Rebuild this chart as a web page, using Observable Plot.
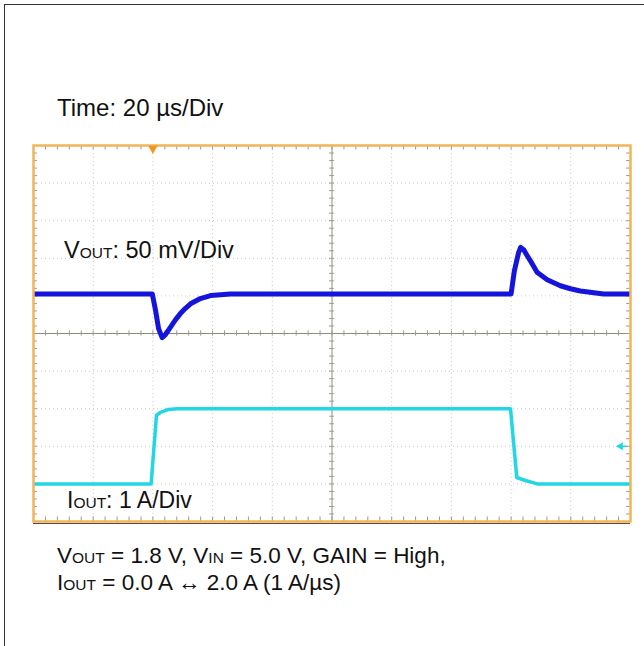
<!DOCTYPE html>
<html>
<head>
<meta charset="utf-8">
<script src="https://cdn.jsdelivr.net/npm/d3@7"></script>
<script src="https://cdn.jsdelivr.net/npm/@observablehq/plot@0.6"></script>
<style>
  html, body { margin: 0; padding: 0; background: #fff; }
  #wrap { position: relative; width: 644px; height: 646px; overflow: hidden; }
  #border { position: absolute; left: 4px; top: 4px; width: 700px; height: 700px;
            border-left: 1.5px solid #333; border-top: 1.5px solid #333; pointer-events: none; }
  svg { font-family: "Liberation Sans", Arial, sans-serif; }
</style>
</head>
<body>
<div id="wrap"><div id="chart"></div><div id="border"></div></div>
<script>
// ---- Data read from the oscilloscope capture ----
// time axis: 20 µs/div, 10 divisions
const timeDomain = [0, 200];            // µs
const divisions = [-5, 5];              // vertical divisions
const voltsPerDiv = 50;                 // mV/div
const ampsPerDiv = 1;                   // A/div
const vOutOffsetDiv = 1.05;             // VOUT trace position (div)
const iOutOffsetDiv = -4;               // IOUT zero position (div)

// VOUT AC deviation (mV) vs time (µs)
const vTime = [0, 39.8, 40.9, 41.9, 43.1, 44.2, 45.9, 47.6, 49.2, 50.9, 52.6, 55.9, 59.3, 66.0,
               160.0, 161.1, 162.5, 163.2, 164.2, 165.4, 166.8, 168.7, 172.1, 176.5, 179.9, 183.2, 191.0, 200];
const vOut  = [0, 0, -22, -46, -58, -54, -44, -34, -26, -19, -13, -6, -2, 0,
               0, 31, 55, 62, 59, 51, 42, 29, 19, 11, 7, 4, 0, 0];

// IOUT (A) vs time (µs)
const iTime = [0, 39.4, 41.2, 42.5, 45.2, 48.2, 159.8, 161.9, 164.8, 168.8, 200];
const iOut  = [0, 0, 1.83, 1.90, 1.98, 2.0, 2.0, 0.17, 0.09, 0, 0];

// scope markers
const triggerTime = [40];      // µs
const triggerLevelA = [1.0];   // A

// texts
const timeLabel = "Time: 20 µs/Div";
const vLabel = [["V", false], ["OUT", true], [": 50 mV/Div", false]];
const iLabel = [["I", false], ["OUT", true], [": 1 A/Div", false]];
const caption1 = [["V", false], ["OUT", true], [" = 1.8 V, V", false], ["IN", true], [" = 5.0 V, GAIN = High,", false]];
const caption2 = [["I", false], ["OUT", true], [" = 0.0 A \u2194 2.0 A (1 A/µs)", false]];

// ---- build tables ----
const vData = vTime.map((t, i) => ({t, mv: vOut[i]}));
const iData = iTime.map((t, i) => ({t, a: iOut[i]}));

const majorX = d3.range(20, 200, 20).filter(d => d !== 100);
const majorY = d3.range(-4, 5, 1).filter(d => d !== 0);
const minorX = d3.range(0, 200.001, 4);
const minorY = d3.range(-5, 5.001, 0.2).map(d => +d.toFixed(2));

const gridColor = "#c9c9c9";
const axisColor = "#8d8d7e";
const tickColor = "#9a9a8c";
const frameColor = "#f2b458";

const chart = Plot.plot({
  width: 644,
  height: 646,
  marginLeft: 33,
  marginRight: 14,
  marginTop: 145,
  marginBottom: 125,
  x: {domain: timeDomain, axis: null},
  y: {domain: divisions, axis: null},
  marks: [
    // dotted grid
    Plot.ruleX(majorX, {stroke: gridColor, strokeDasharray: "1,3", strokeWidth: 1}),
    Plot.ruleY(majorY, {stroke: gridColor, strokeDasharray: "1,3", strokeWidth: 1}),
    // center axes
    Plot.ruleX([100], {stroke: axisColor, strokeWidth: 1}),
    Plot.ruleY([0], {stroke: axisColor, strokeWidth: 1}),
    // center axis minor ticks
    Plot.ruleX(minorX, {y1: -0.07, y2: 0.07, stroke: tickColor}),
    Plot.ruleY(minorY, {x1: 99.2, x2: 100.8, stroke: tickColor}),
    // frame edge ticks
    Plot.ruleX(minorX, {y1: 5, y2: 4.88, stroke: tickColor}),
    Plot.ruleX(minorX, {y1: -5, y2: -4.88, stroke: tickColor}),
    Plot.ruleY(minorY, {x1: 0, x2: 1.3, stroke: tickColor}),
    Plot.ruleY(minorY, {x1: 200, x2: 198.7, stroke: tickColor}),
    // traces
    Plot.line(iData, {x: "t", y: d => iOutOffsetDiv + d.a / ampsPerDiv, stroke: "#22d6e4", strokeWidth: 3.5, clip: true}),
    Plot.line(vData, {x: "t", y: d => vOutOffsetDiv + d.mv / voltsPerDiv, stroke: "#1414dc", strokeWidth: 5, clip: true}),
    // frame
    Plot.frame({stroke: frameColor, strokeWidth: 2.5}),
    Plot.ruleY([-5], {stroke: "#5e4a32", strokeWidth: 1.2, dy: 2}),
    // trigger position marker
    Plot.dot(triggerTime, {x: d => d, y: 5, symbol: "triangle", rotate: 180, r: 3.5, fill: "#f0961e", stroke: "none", dy: 3}),
    // trigger level marker (IOUT channel)
    Plot.dot(triggerLevelA, {x: 200, y: d => iOutOffsetDiv + d / ampsPerDiv, symbol: "triangle", rotate: -90, r: 3, fill: "#22d6e4", stroke: "none", dx: -10}),
    Plot.ruleY(triggerLevelA, {y: d => iOutOffsetDiv + d / ampsPerDiv, x1: 197, x2: 199, stroke: "#22d6e4", strokeWidth: 1.5})
  ]
});

document.getElementById("chart").appendChild(chart);

// annotation texts with subscripts
const svg = d3.select(chart);
const g = svg.append("g").attr("fill", "#111").attr("font-size", 23).attr("text-anchor", "start");
function addText(parts, x, y, size) {
  const t = g.append("text").attr("x", x).attr("y", y).attr("text-anchor", "start");
  parts.forEach(([s, sub]) => {
    t.append("tspan").attr("font-size", sub ? 15.5 : size).text(s);
  });
}
addText([[timeLabel, false]], 57, 116, 24);
addText(vLabel, 64, 258, 23.5);
addText(iLabel, 67, 508, 23);
addText(caption1, 57, 563, 22.5);
addText(caption2, 57, 590, 22.5);
</script>
</body>
</html>
